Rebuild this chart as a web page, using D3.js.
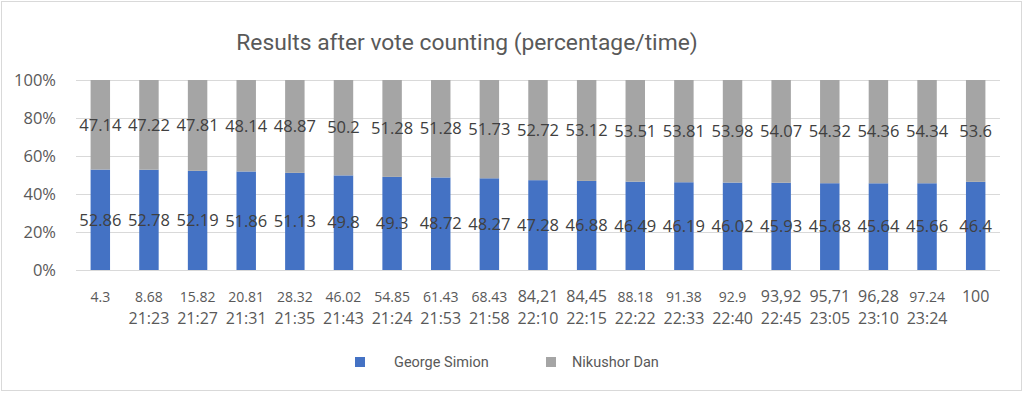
<!doctype html>
<html lang="en">
<head>
  <meta charset="utf-8">
  <style>
    body { margin: 0; background: #fff; }
    svg { display: block; }
  </style>
</head>
<body>
  <script src="https://d3js.org/d3.v7.min.js"></script>
  <div id="chart"></div>
  <script>
    // data
    var counted = ["4.3", "8.68", "15.82", "20.81", "28.32", "46.02", "54.85", "61.43", "68.43", "84,21",
                   "84,45", "88.18", "91.38", "92.9", "93,92", "95,71", "96,28", "97.24", "100"];
    var times = ["", "21:23", "21:27", "21:31", "21:35", "21:43", "21:24", "21:53", "21:58", "22:10",
                 "22:15", "22:22", "22:33", "22:40", "22:45", "23:05", "23:10", "23:24", ""];
    var simion = [52.86, 52.78, 52.19, 51.86, 51.13, 49.8, 49.3, 48.72, 48.27, 47.28,
                  46.88, 46.49, 46.19, 46.02, 45.93, 45.68, 45.64, 45.66, 46.4];
    var dan = [47.14, 47.22, 47.81, 48.14, 48.87, 50.2, 51.28, 51.28, 51.73, 52.72,
               53.12, 53.51, 53.81, 53.98, 54.07, 54.32, 54.36, 54.34, 53.6];
    var seriesNames = ["George Simion", "Nikushor Dan"];
    var yTicks = [0, 0.2, 0.4, 0.6, 0.8, 1];

    var width = 1024, height = 393;
    var margin = {top: 80, right: 24, bottom: 123, left: 76};
    var colors = ["#4472C4", "#A5A5A5"];

    var svg = d3.select("#chart").append("svg")
                .attr("width", width)
                .attr("height", height);

    // outer frame
    svg.append("rect")
       .attr("x", 1.5).attr("y", 1.5)
       .attr("width", 1020).attr("height", 389)
       .attr("fill", "#fff")
       .attr("stroke", "#d9d9d9");

    svg.append("text")
       .attr("x", 467).attr("y", 50)
       .attr("text-anchor", "middle")
       .style("font-family", "Roboto")
       .style("font-size", "22.8px")
       .style("fill", "#595959")
       .text("Results after vote counting (percentage/time)");

    var rows = counted.map(function(c, i) {
      var tot = simion[i] + dan[i];
      return {i: i, label: c, time: times[i], s: simion[i], d: dan[i], ps: simion[i] / tot, pd: dan[i] / tot};
    });

    var x = d3.scaleBand()
              .domain(rows.map(function(d) { return d.i; }))
              .range([margin.left, width - margin.right])
              .paddingInner(0.6)
              .paddingOuter(0.3);
    var y = d3.scaleLinear().domain([0, 1]).range([height - margin.bottom, margin.top]);

    // grid + y axis
    var yAxis = svg.append("g")
       .attr("transform", "translate(" + margin.left + ",0)")
       .call(d3.axisLeft(y).tickValues(yTicks).tickFormat(d3.format(".0%"))
               .tickSize(-(width - margin.left - margin.right)).tickPadding(20));
    yAxis.select(".domain").remove();
    yAxis.selectAll("line").attr("stroke", "#d9d9d9");
    yAxis.selectAll("text")
         .style("font-family", "Open Sans")
         .style("font-size", "16.5px")
         .style("fill", "#595959");

    // stacked bars
    var bars = svg.append("g").selectAll("g").data(rows).enter().append("g");
    bars.append("rect")
        .attr("x", function(d) { return x(d.i); })
        .attr("width", x.bandwidth())
        .attr("y", function(d) { return y(d.ps); })
        .attr("height", function(d) { return y(0) - y(d.ps); })
        .attr("fill", colors[0]);
    bars.append("rect")
        .attr("x", function(d) { return x(d.i); })
        .attr("width", x.bandwidth())
        .attr("y", y(1))
        .attr("height", function(d) { return y(d.ps) - y(1); })
        .attr("fill", colors[1]);

    // data labels
    function label(sel, val, mid) {
      sel.append("text")
         .attr("x", function(d) { return x(d.i) + x.bandwidth() / 2; })
         .attr("y", mid)
         .attr("dy", "0.35em")
         .attr("text-anchor", "middle")
         .style("font-family", "Open Sans")
         .style("font-size", "16.5px")
         .style("fill", "#404040")
         .text(val);
    }
    label(bars, function(d) { return d.s; }, function(d) { return (y(0) + y(d.ps)) / 2; });
    label(bars, function(d) { return d.d; }, function(d) { return (y(d.ps) + y(1)) / 2; });

    // category labels (two lines)
    var xl = svg.append("g").selectAll("g").data(rows).enter().append("g");
    xl.append("text")
      .attr("x", function(d) { return x(d.i) + x.bandwidth() / 2; })
      .attr("y", 302)
      .attr("text-anchor", "middle")
      .style("font-family", "Open Sans")
      .style("font-size", function(d) { return d.label.indexOf(".") >= 0 ? "14px" : "16px"; })
      .style("fill", "#595959")
      .text(function(d) { return d.label; });
    xl.append("text")
      .attr("x", function(d) { return x(d.i) + x.bandwidth() / 2; })
      .attr("y", 324)
      .attr("text-anchor", "middle")
      .style("font-family", "Open Sans")
      .style("font-size", "16px")
      .style("fill", "#595959")
      .text(function(d) { return d.time; });

    // legend
    var legendX = [355, 546];
    var lg = svg.append("g").selectAll("g").data(seriesNames).enter().append("g")
                .attr("transform", function(d, i) { return "translate(" + legendX[i] + ",357)"; });
    lg.append("rect")
      .attr("width", 10).attr("height", 10)
      .attr("fill", function(d, i) { return colors[i]; });
    lg.append("text")
      .attr("x", function(d, i) { return i === 0 ? 39 : 26; })
      .attr("y", 5).attr("dy", "0.35em")
      .style("font-family", "Roboto")
      .style("font-size", "14.5px")
      .style("fill", "#595959")
      .text(function(d) { return d; });
  </script>
</body>
</html>
